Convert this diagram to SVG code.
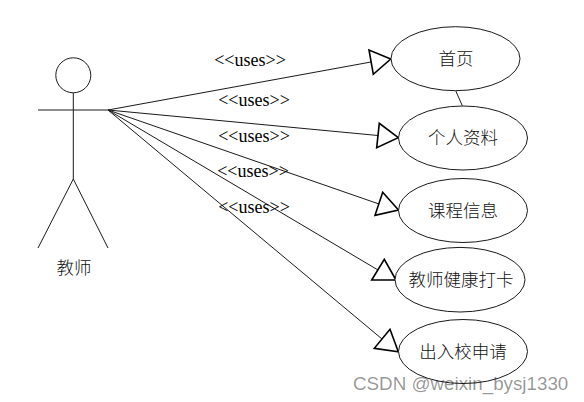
<svg xmlns="http://www.w3.org/2000/svg" width="584" height="402" viewBox="0 0 584 402">
<style>
.s{fill:none;stroke:#1a1a1a;stroke-width:1}
.u{fill:#fff;stroke:#1a1a1a;stroke-width:1}
.h{fill:none;stroke:#000;stroke-width:1.6}
.c{font-family:"Noto Sans CJK SC","Liberation Serif",serif;font-size:17.5px;font-weight:300;fill:#111;text-anchor:middle}
.l{font-family:"Liberation Serif",serif;font-size:18px;fill:#000;text-anchor:middle}
.w{font-family:"Liberation Sans",sans-serif;font-size:18.8px;fill:#000;fill-opacity:.42}
</style>
<rect width="584" height="402" fill="#fff"/>
<g id="connectors">
<path class="s" d="M108 110L371 62M108 110L378 135.5M108 110L379 204M108 110L378 270M108 110L382 339M455.7 90.7L462.3 105.7"/>
<path class="h" d="M390.7 59L369 50L373.3 74.3Z"/>
<path class="h" d="M398.3 137.7L379.3 123.3L376.7 147.7Z"/>
<path class="h" d="M398.5 210L382.7 192.3L375 215.3Z"/>
<path class="h" d="M396 280L384.3 259.3L371.7 280Z"/>
<path class="h" d="M398.3 351.7L390 329.3L374.3 348.3Z"/>
<text class="l" x="250" y="66">&lt;&lt;uses&gt;&gt;</text>
<text class="l" x="254" y="106">&lt;&lt;uses&gt;&gt;</text>
<text class="l" x="254" y="142">&lt;&lt;uses&gt;&gt;</text>
<text class="l" x="253" y="177">&lt;&lt;uses&gt;&gt;</text>
<text class="l" x="254" y="213">&lt;&lt;uses&gt;&gt;</text>
</g>
<g id="actor">
<circle class="s" cx="73.3" cy="75.3" r="17.5"/>
<path class="s" d="M38 110H108M73.3 93V179M73.3 179L38 248M73.3 179L108 248"/>
<text class="c" x="74" y="274">教师</text>
</g>
<g id="uc1"><ellipse class="u" cx="455.5" cy="58.7" rx="64.5" ry="32"/><text class="c" x="456" y="64.500">首页</text></g>
<g id="uc2"><ellipse class="u" cx="463" cy="138" rx="64.5" ry="32"/><text class="c" x="463" y="144">个人资料</text></g>
<g id="uc3"><ellipse class="u" cx="463" cy="210.500" rx="64.5" ry="32"/><text class="c" x="463" y="216.500">课程信息</text></g>
<g id="uc4"><ellipse class="u" cx="460" cy="279.700" rx="65" ry="32.300"/><text class="c" x="461" y="286">教师健康打卡</text></g>
<g id="uc5"><ellipse class="u" cx="463" cy="351.500" rx="64.5" ry="32"/><text class="c" x="463" y="357.500">出入校申请</text></g>
<text class="w" x="353" y="390">CSDN @weixin_bysj1330</text>
</svg>
